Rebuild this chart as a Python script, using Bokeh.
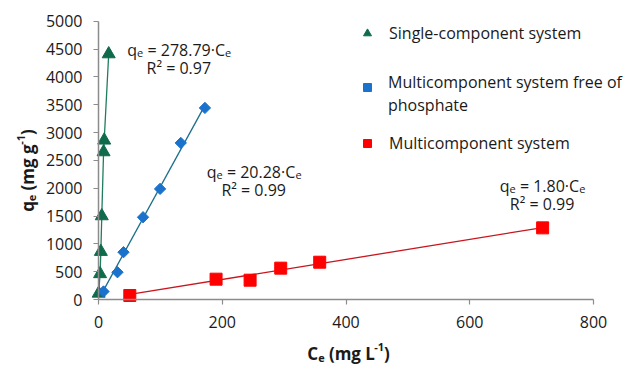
import math
from bokeh.plotting import figure
from bokeh.models import Range1d, FixedTicker, Legend, LegendItem, Label
from bokeh.embed import file_html
from bokeh.resources import INLINE

# ---- data ----
single_ce = [0.3, 2.5, 3.8, 5.3, 8.2, 9.2, 16.5]
single_qe = [110, 460, 860, 1500, 2650, 2860, 4410]

free_ce = [8.1, 30.7, 40.4, 72.0, 99.5, 133.0, 172.0]
free_qe = [144, 490, 850, 1478, 1987, 2813, 3442]

multi_ce = [50.6, 190.0, 245.0, 294.5, 357.5, 717.8]
multi_qe = [72, 365, 347, 563, 670, 1287]

slope_free = 20.28
slope_multi = 1.80

series_names = ["Single-component system",
                "Multicomponent system free of phosphate",
                "Multicomponent system"]

eq_slopes = ["278.79", "20.28", "1.80"]
eq_r2 = ["0.97", "0.99", "0.99"]

x_ticks = [0, 200, 400, 600, 800]
y_ticks = [0, 500, 1000, 1500, 2000, 2500, 3000, 3500, 4000, 4500, 5000]
X_LIM = (0, 800)
Y_LIM = (0, 5000)

# ---- layout / style (page pixels) ----
W, H = 631, 365
AX_LEFT, AX_RIGHT = 98.0, 593.0      # pixel of x=0 and x=800
AX_BOTTOM, AX_TOP = 299.0, 20.7      # pixel of y=0 and y=5000
SX = (AX_RIGHT - AX_LEFT) / (X_LIM[1] - X_LIM[0])
SY = (AX_BOTTOM - AX_TOP) / (Y_LIM[1] - Y_LIM[0])

FONT = "Open Sans"
TXT = "#1a1a1a"
GREEN = "#0f6b4b"
GREEN_LINE = "#1f7c60"
BLUE = "#1a72cc"
BLUE_LINE = "#1b6e8c"
RED = "#ff0000"
RED_LINE = "#c8161e"
AXIS = "#8c8c8c"

ADV = {" ": 0.260, "\u00a0": 0.260, "(": 0.296, ")": 0.296, "-": 0.322,
       ".": 0.266, "=": 0.572, "C": 0.631, "R": 0.635, "L": 0.520,
       "e": 0.561, "g": 0.539, "m": 0.930, "q": 0.613, "·": 0.266, "²": 0.386}
ADV_B = {" ": 0.260, "\u00a0": 0.260, "(": 0.339, ")": 0.339, "-": 0.322,
         "C": 0.645, "L": 0.549, "e": 0.575, "g": 0.565, "m": 0.954, "q": 0.627}


def tw(s, size, bold=False):
    tot = 0.0
    for ch in s:
        if bold:
            tot += ADV_B.get(ch, ADV.get(ch, 0.572))
        else:
            tot += ADV.get(ch, 0.572)
    return tot * size


def to_data(px, py):
    return (X_LIM[0] + (px - AX_LEFT) / SX, Y_LIM[0] + (AX_BOTTOM - py) / SY)


x0, y1 = to_data(0, 0)
x1, y0 = to_data(W, H)

p = figure(width=W, height=H, output_backend="svg", toolbar_location=None,
           x_range=Range1d(x0, x1), y_range=Range1d(y0, y1), min_border=0)
p.outline_line_color = None
p.xgrid.visible = False
p.ygrid.visible = False


def compose(pieces, cx, cy, angle=0.0, bold=False):
    """pieces: (text, size, shift); shift>0 lowers (subscript). cy = baseline."""
    widths = [tw(t, s, bold) for t, s, _ in pieces]
    x, y = to_data(cx, cy)
    acc = -sum(widths) / 2.0
    for (t, s, sh), w in zip(pieces, widths):
        txt = t.replace(" ", "\u00a0")
        if angle == 0:
            xo, yo = acc, -sh
        else:
            xo, yo = sh, acc
        p.add_layout(Label(x=x, y=y, x_offset=xo, y_offset=yo, text=txt,
                           angle=angle, text_font=FONT,
                           text_font_size=f"{s}px",
                           text_font_style="bold" if bold else "normal",
                           text_color=TXT, text_align="left",
                           text_baseline="alphabetic"))
        acc += w


def plain(text, px, py):
    x, y = to_data(px, py)
    p.add_layout(Label(x=x, y=y, text=text, text_font=FONT,
                       text_font_size="16px", text_color=TXT,
                       text_align="left", text_baseline="middle"))


# lines
p.line(single_ce, single_qe, line_color=GREEN_LINE, line_width=1.3)
fx = [min(free_ce), max(free_ce)]
p.line(fx, [slope_free * v for v in fx], line_color=BLUE_LINE, line_width=1.3)
mx = [min(multi_ce), max(multi_ce)]
p.line(mx, [slope_multi * v for v in mx], line_color=RED_LINE, line_width=1.3)

r1 = p.scatter(single_ce, single_qe, marker="triangle", size=13,
               fill_color=GREEN, line_color=GREEN)
r2 = p.scatter(free_ce, free_qe, marker="square", size=8, angle=math.pi / 4,
               fill_color=BLUE, line_color=BLUE)
r3 = p.scatter(multi_ce, multi_qe, marker="square", size=12,
               fill_color=RED, line_color=RED)

# axes, pinned at the data origin
for ax in (p.xaxis, p.yaxis):
    ax.fixed_location = 0
    ax.axis_line_color = AXIS
    ax.axis_line_width = 1.5
    ax.major_tick_line_color = AXIS
    ax.major_tick_line_width = 1.2
    ax.major_tick_in = 0
    ax.major_tick_out = 5
    ax.minor_tick_line_color = None
    ax.major_label_text_font = FONT
    ax.major_label_text_font_size = "16px"
    ax.major_label_text_color = TXT
    ax.major_label_standoff = 11

p.xaxis.ticker = FixedTicker(ticks=x_ticks)
p.yaxis.ticker = FixedTicker(ticks=y_ticks)
p.xaxis.bounds = X_LIM
p.yaxis.bounds = Y_LIM

# axis titles (with sub/superscripts)
compose([("C", 17, 0), ("e", 11, 4), (" (mg L", 17, 0), ("-1", 11, -7), (")", 17, 0)],
        348, 353, bold=True)
compose([("q", 17, 0), ("e", 11, 4), (" (mg g", 17, 0), ("-1", 11, -7), (")", 17, 0)],
        27, 170, angle=math.pi / 2, bold=True)

# legend: one entry per box (location = bottom-left corner from frame bottom-left)
leg_renderers = [r1, r2, r3]
leg_centres_y = [33.3, 87.3, 142.7]
ITEM_H = 22
for i, (name, rr, cy) in enumerate(zip(series_names, leg_renderers, leg_centres_y)):
    label = name if i != 1 else "\u00a0"
    lg = Legend(items=[LegendItem(label=label, renderers=[rr])],
                location=(357, H - (cy + ITEM_H / 2)), orientation="vertical",
                glyph_width=20, glyph_height=20, label_height=20,
                spacing=0, padding=0, margin=0, label_standoff=12,
                border_line_color=None, background_fill_alpha=0,
                label_text_font=FONT, label_text_font_size="16px",
                label_text_color=TXT)
    p.add_layout(lg)
# the wrapped two-line legend entry
words = series_names[1].split(" ")
plain(" ".join(words[:-1]), 387.5, 81.7)
plain(words[-1], 387.5, 104.5)

# trend-line equations (centre x, baseline of first line)
eq_centres = [(178.8, 49.0), (253.7, 171.0), (542.1, 185.0)]
LINE_GAP = 18.5
for slope, r2, (cx, by) in zip(eq_slopes, eq_r2, eq_centres):
    compose([("q", 16, 0), ("e", 11, 3.5), (f" = {slope}·C", 16, 0), ("e", 11, 3.5)],
            cx, by)
    compose([(f"R² = {r2}", 16, 0)], cx, by + LINE_GAP)

open("out.html", "w").write(file_html(p, INLINE))
